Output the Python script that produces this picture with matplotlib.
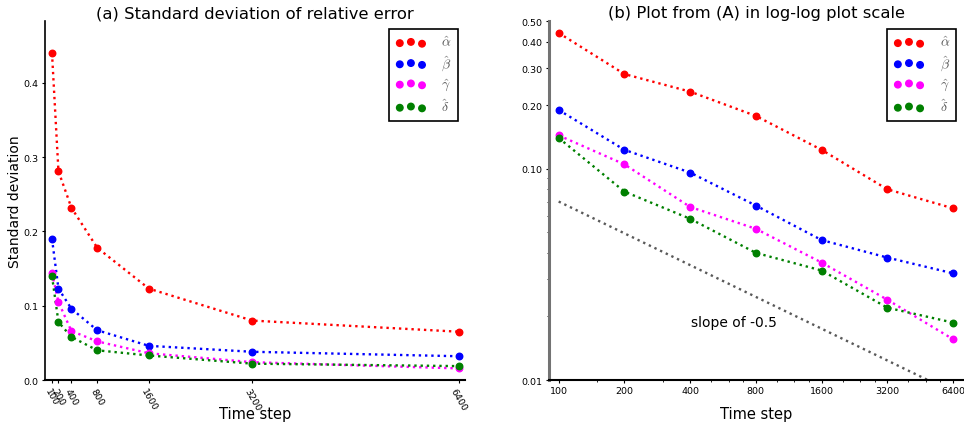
import numpy as np
import matplotlib
matplotlib.use('Agg')
import matplotlib.pyplot as plt
from matplotlib.ticker import FixedLocator, FormatStrFormatter, NullFormatter

plt.rcParams['mathtext.fontset'] = 'cm'

# Time steps and standard deviation of the relative error for each estimate
time_steps = [100, 200, 400, 800, 1600, 3200, 6400]
sd_alpha = [0.440, 0.281, 0.232, 0.178, 0.123, 0.080, 0.065]
sd_beta = [0.190, 0.123, 0.096, 0.067, 0.046, 0.038, 0.032]
sd_gamma = [0.144, 0.105, 0.066, 0.052, 0.036, 0.024, 0.0156]
sd_delta = [0.140, 0.078, 0.058, 0.040, 0.033, 0.022, 0.0187]
labels = [r'$\hat{\alpha}$', r'$\hat{\beta}$', r'$\hat{\gamma}$', r'$\hat{\delta}$']
colors = ['red', 'blue', 'magenta', 'green']
series = [sd_alpha, sd_beta, sd_gamma, sd_delta]

# reference line with slope -0.5 in log-log scale
ref_start = 0.07
ref_line = [ref_start * np.sqrt(time_steps[0] / t) for t in time_steps]

fig = plt.figure(figsize=(9.64, 4.27), dpi=100)
ax1 = fig.add_axes([0.0467, 0.1077, 0.4357, 0.8403])
ax2 = fig.add_axes([0.5695, 0.1077, 0.4295, 0.8403])

for ax in (ax1, ax2):
    for vals, col, lab in zip(series, colors, labels):
        ax.plot(time_steps, vals, linestyle=':', color=col, linewidth=1.7)
        ax.scatter(time_steps, vals, color=col, s=22, zorder=3, label=lab)
    ax.spines['top'].set_visible(False)
    ax.spines['right'].set_visible(False)
    ax.spines['bottom'].set_linewidth(1.5)
    leg = ax.legend(loc='upper right', bbox_to_anchor=(0.99, 0.985),
                    scatterpoints=3, fancybox=False,
                    edgecolor='black', fontsize=10, handlelength=2.2,
                    handletextpad=1.1, borderpad=0.45, labelspacing=0.3,
                    borderaxespad=0.2, framealpha=1)
    leg.get_frame().set_linewidth(1.2)
    for t in leg.get_texts():
        t.set_color('0.35')
    ax.set_xlabel('Time step', fontsize=10.5)
    ax.xaxis.set_label_coords(0.5, -0.072)
    ax.tick_params(labelsize=6.8, length=2.5, pad=2)

# Panel (a): linear scale
ax1.set_title('(a) Standard deviation of relative error', fontsize=11.8, pad=3)
ax1.set_ylabel('Standard deviation', fontsize=10)
ax1.yaxis.set_label_coords(-0.055, 0.5)
ax1.set_xlim(-8, 6493)
ax1.set_ylim(0, 0.483)
ax1.set_xticks(time_steps)
ax1.set_xticklabels([str(t) for t in time_steps], rotation=-60, fontsize=6.8)
ax1.set_yticks([0.0, 0.1, 0.2, 0.3, 0.4])
ax1.yaxis.set_major_formatter(FormatStrFormatter('%.1f'))
ax1.spines['left'].set_linewidth(1.2)

# Panel (b): log-log scale
ax2.plot(time_steps, ref_line, linestyle=':', color='0.35', linewidth=1.7)
ax2.set_xscale('log', base=2)
ax2.set_yscale('log')
ax2.set_xlim(90.3, 7110)
ax2.set_ylim(0.01, 0.5)
ax2.set_xticks(time_steps)
ax2.set_xticklabels([str(t) for t in time_steps], fontsize=6.8)
ax2.xaxis.set_minor_locator(FixedLocator([150, 300, 500, 600, 700, 1000, 1200, 1400,
                                          2000, 2400, 2800, 4000, 4800, 5600]))
ax2.xaxis.set_minor_formatter(NullFormatter())
ax2.set_yticks([0.01, 0.1, 0.2, 0.3, 0.4, 0.5])
ax2.yaxis.set_major_formatter(FormatStrFormatter('%.2f'))
ax2.yaxis.set_minor_formatter(NullFormatter())
ax2.tick_params(which='minor', length=1.5)
ax2.spines['left'].set_color('0.45')
ax2.spines['left'].set_linewidth(2.2)
ax2.set_title('(b) Plot from (A) in log-log plot scale', fontsize=11.8, pad=3)
ax2.text(402, 0.0189, 'slope of -0.5', fontsize=10, va='center', ha='left')

fig.savefig('out.png', dpi=100)
